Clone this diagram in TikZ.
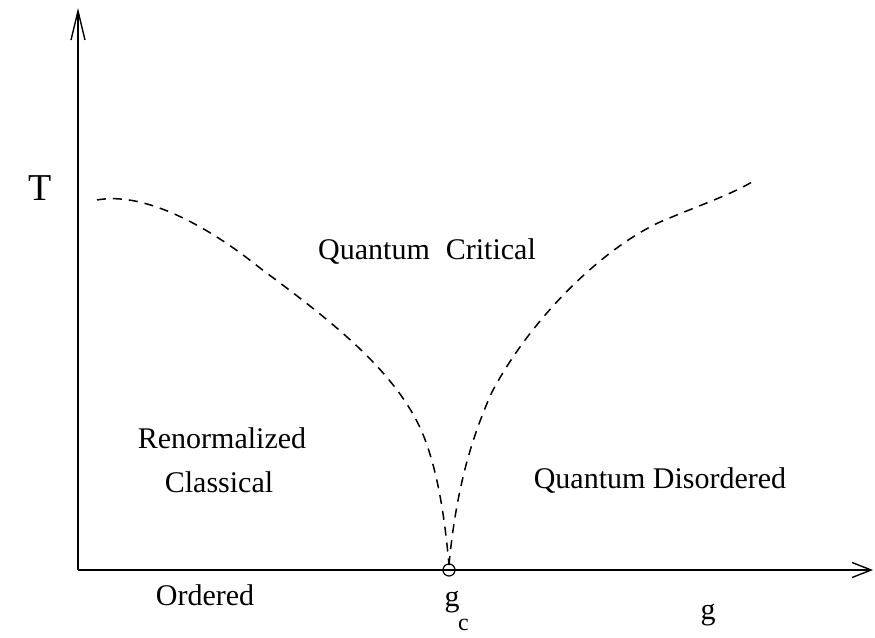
\documentclass[tikz,border=0pt]{standalone}
\usepackage{fontspec}
\setmainfont{Liberation Serif}
\usetikzlibrary{arrows.meta}
\begin{document}
\begin{tikzpicture}[x=1pt,y=-1pt,
  axis/.style={line width=1.4pt},
  crit/.style={line width=1.5pt, dash pattern=on 9pt off 7pt},
  lbl/.style={anchor=base, inner sep=0pt, font=\fontsize{30}{36}\selectfont}]
\useasboundingbox (0,0) rectangle (875,637);
\coordinate (O) at (78,570);
\coordinate (ytip) at (78,8);
\coordinate (xtip) at (873,570);
\draw[axis, -{Straight Barb[length=29pt,width=14pt]}] (O) -- (ytip);
\draw[axis, -{Straight Barb[length=19pt,width=15pt]}] (O) -- (xtip);
\node[draw, circle, line width=1.2pt, minimum size=12pt, inner sep=0pt] (gc) at (449,570) {};
\draw[crit] (97,200) .. controls (140,192) and (200,220) .. (260,268)
  .. controls (330,320) and (395,370) .. (422,432)
  .. controls (438,470) and (445,520) .. (449,565);
\draw[crit] (449,565) .. controls (455,500) and (468,445) .. (492,392)
  .. controls (530,320) and (600,250) .. (660,222)
  .. controls (700,205) and (730,195) .. (752,182);
\node[lbl, font=\fontsize{38}{44}\selectfont] (T) at (40,200) {T};
\node[lbl] (qc) at (427,259) {Quantum\hspace{16pt}Critical};
\node[lbl] (qd) at (660,488) {Quantum Disordered};
\node[lbl] (rn) at (222,448) {Renormalized};
\node[lbl] (cl) at (219,492) {Classical};
\node[lbl] (ord) at (205,605) {Ordered};
\node[lbl] (g) at (708,619) {g};
\node[lbl] (gcl) at (452,606) {g};
\node[lbl, anchor=base west, font=\fontsize{24}{28}\selectfont] (csub) at (458,630) {c};
\end{tikzpicture}
\end{document}
